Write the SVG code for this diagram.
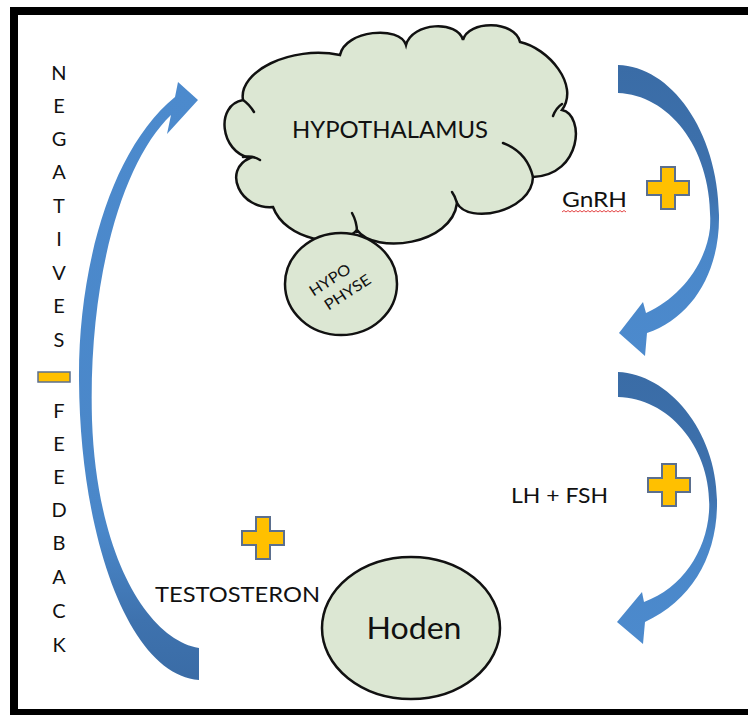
<svg xmlns="http://www.w3.org/2000/svg" width="748" height="715" viewBox="0 0 748 715">
  <defs>
    <style>
      .lbl { font-family: Lato, "Liberation Sans", Arial, sans-serif; fill: #111; }
      .shape { fill: #DCE7D3; stroke: #111; stroke-width: 2.5; }
      .inner { fill: none; stroke: #111; stroke-width: 2.5; stroke-linecap: round; }
      .plus { fill: #FFC000; stroke: #5B6F8E; stroke-width: 2; }
    </style>
    <path id="plus" d="M-7,-21 H7 V-7 H21 V7 H7 V21 H-7 V7 H-21 V-7 H-7 Z"/>
    <linearGradient id="gTop" x1="0" y1="0" x2="0" y2="1">
      <stop offset="0" stop-color="#3A6CA6"/>
      <stop offset="0.45" stop-color="#3E72AE"/>
      <stop offset="0.62" stop-color="#4A87C9"/>
      <stop offset="1" stop-color="#4C8ACD"/>
    </linearGradient>
    <linearGradient id="gLeft" x1="0" y1="0" x2="0" y2="1">
      <stop offset="0" stop-color="#4C8ACD"/>
      <stop offset="0.75" stop-color="#4A87C9"/>
      <stop offset="0.9" stop-color="#3E72AE"/>
      <stop offset="1" stop-color="#3A6CA6"/>
    </linearGradient>
  </defs>
  <rect x="0" y="0" width="748" height="715" fill="#fff"/>
  <rect x="14" y="11" width="760" height="702" fill="none" stroke="#000" stroke-width="8"/>

  <g id="connectors">
    <path id="arrow-gnrh" fill="url(#gTop)" d="M618,65 C670,66 718,130 719,215 C720,272 692,318 647,333 L645,356 L619,333 L643,302 L646,313 C680,298 706,264 710,228 C714,150 670,95 618,93 Z"/>
    <path id="arrow-lhfsh" fill="url(#gTop)" d="M618,372 C668,374 716,430 717,500 C718,556 692,600 645,622 L643,644 L617,622 L642,592 L644,602 C682,588 706,552 709,512 C713,450 670,398 618,397 Z"/>
    <path id="arrow-feedback" fill="url(#gLeft)" d="M199,648 C150,640 97,560 92,420 C88,280 122,162 171,115 L167,134 L198,100 L178,82 L175,97 C110,150 78,270 79,380 C80,540 130,675 199,680 Z"/>
  </g>

  <g id="hypothalamus">
    <path class="shape" d="M243,100 C238,72 290,45 340,55 C345,30 400,25 406,45 C412,22 458,20 463,40 C468,20 515,20 520,42 C548,48 580,85 562,110 C585,115 582,175 533,177 C532,212 468,225 457,203 C452,245 375,255 357,230 C340,250 285,240 273,207 C240,210 222,170 250,158 C220,152 215,105 243,100 Z"/>
    <path class="inner" d="M243,157 Q252,155 260,160"/>
    <path class="inner" d="M553,116 Q556,108 562,104"/>
    <path class="inner" d="M503,143 Q527,152 533,177"/>
    <path class="inner" d="M457,203 Q455,196 452,192"/>
    <path class="inner" d="M352,213 Q357,222 357,232"/>
    <path class="inner" d="M243,100 Q249,104 254,112"/>
    <text class="lbl" x="390" y="138" font-size="23" text-anchor="middle" textLength="196" lengthAdjust="spacingAndGlyphs">HYPOTHALAMUS</text>
  </g>

  <g id="hypophyse">
    <ellipse class="shape" cx="341" cy="284" rx="56" ry="51"/>
    <g transform="translate(341,286) rotate(-33)">
      <text class="lbl" x="-6" y="-6" font-size="15" text-anchor="middle" textLength="46" lengthAdjust="spacingAndGlyphs">HYPO</text>
      <text class="lbl" x="2" y="14" font-size="15" text-anchor="middle" textLength="52" lengthAdjust="spacingAndGlyphs">PHYSE</text>
    </g>
  </g>

  <g id="hoden">
    <ellipse class="shape" cx="411" cy="628" rx="89" ry="71"/>
    <text class="lbl" x="414" y="639" font-size="31" text-anchor="middle" textLength="95" lengthAdjust="spacingAndGlyphs">Hoden</text>
  </g>

  <g id="label-gnrh">
    <text class="lbl" x="562" y="207" font-size="21" textLength="65" lengthAdjust="spacingAndGlyphs">GnRH</text>
    <path d="M562,212 l2,-1.5 l2,1.5 l2,-1.5 l2,1.5 l2,-1.5 l2,1.5 l2,-1.5 l2,1.5 l2,-1.5 l2,1.5 l2,-1.5 l2,1.5 l2,-1.5 l2,1.5 l2,-1.5 l2,1.5 l2,-1.5 l2,1.5 l2,-1.5 l2,1.5 l2,-1.5 l2,1.5 l2,-1.5 l2,1.5 l2,-1.5 l2,1.5 l2,-1.5 l2,1.5 l2,-1.5 l2,1.5 l2,-1.5 l2,1.5" fill="none" stroke="#E03030" stroke-width="0.9"/>
    <use href="#plus" class="plus" transform="translate(668,188)"/>
  </g>

  <g id="label-lhfsh">
    <text class="lbl" x="511" y="503" font-size="21" textLength="97" lengthAdjust="spacingAndGlyphs">LH + FSH</text>
    <use href="#plus" class="plus" transform="translate(669,485)"/>
  </g>

  <g id="label-testosteron">
    <text class="lbl" x="155" y="602" font-size="22" textLength="165" lengthAdjust="spacingAndGlyphs">TESTOSTERON</text>
    <use href="#plus" class="plus" transform="translate(263,538)"/>
  </g>

  <g id="label-feedback" class="lbl" font-size="20" text-anchor="middle">
    <text x="59" y="80">N</text>
    <text x="59" y="113">E</text>
    <text x="59" y="146">G</text>
    <text x="59" y="179">A</text>
    <text x="59" y="213">T</text>
    <text x="59" y="246">I</text>
    <text x="59" y="280">V</text>
    <text x="59" y="313">E</text>
    <text x="59" y="347">S</text>
    <rect x="38" y="372" width="32" height="10" fill="#FFC000" stroke="#5B6F8E" stroke-width="1.5"/>
    <text x="59" y="418">F</text>
    <text x="59" y="451">E</text>
    <text x="59" y="484">E</text>
    <text x="59" y="517">D</text>
    <text x="59" y="550">B</text>
    <text x="59" y="584">A</text>
    <text x="59" y="618">C</text>
    <text x="59" y="652">K</text>
  </g>
</svg>
